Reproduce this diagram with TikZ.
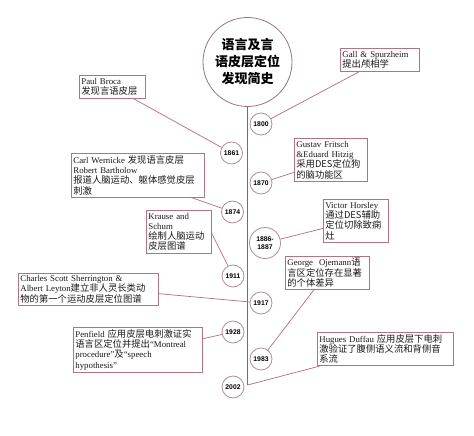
\documentclass[tikz,border=0pt]{standalone}
\usepackage{fontspec}
\setmainfont{Liberation Serif}
\newfontfamily\cjk{Noto Sans CJK SC}[Scale=1.06]
\newfontfamily\cjkt{Noto Sans CJK SC}
\newfontfamily\yearf{Liberation Sans}
\newcommand\zh[1]{{\cjk #1}}
\definecolor{linec}{RGB}{196,72,96}
\definecolor{boxc}{RGB}{176,116,132}
\definecolor{circc}{RGB}{168,146,148}
\definecolor{connc}{RGB}{176,110,126}
\definecolor{titlec}{RGB}{150,118,124}
\definecolor{textc}{RGB}{25,25,25}
\tikzset{
  evbox/.style 2 args={draw=boxc, line width=0.8pt, fill=white, inner sep=2pt,
    align=left, anchor=north west, text width=#1-4pt, minimum height=#2,
    font=\fontsize{8.8}{10.3}\selectfont, text=textc},
  yr/.style={circle, draw=circc, line width=0.8pt, fill=white, inner sep=0pt,
    minimum size=22pt, align=center, text=black,
    font=\yearf\bfseries\fontsize{6.8}{7.6}\selectfont},
  conn/.style={draw=connc, line width=0.7pt},
  vline/.style={draw=linec, line width=1.3pt},
}
\begin{document}
\begin{tikzpicture}[x=1pt,y=-1pt]
\useasboundingbox[fill=white] (0,0) rectangle (474,436);
% title
\node[circle, draw=titlec, line width=0.8pt, minimum size=89pt, inner sep=0pt,
  align=center, font=\cjkt\bfseries\fontsize{13}{17}\selectfont] (title) at (247.5,62)
  {语言及言\\语皮层定位\\发现简史};
\coordinate (lineend) at (247.5,385);
\draw[vline] (title.south) -- (title.south |- lineend);
% year circles
\node[yr] (y1800) at (261,124) {1800};
\node[yr] (y1861) at (231.5,153) {1861};
\node[yr] (y1870) at (261,183) {1870};
\node[yr] (y1874) at (232.5,212) {1874};
\node[yr, minimum size=31pt] (y1886) at (265,243) {1886-\\1887};
\node[yr] (y1911) at (233,276) {1911};
\node[yr] (y1917) at (261,303) {1917};
\node[yr] (y1928) at (233,332) {1928};
\node[yr] (y1983) at (261,359) {1983};
\node[yr] (y2002) at (233,387) {2002};
% event boxes
\node[evbox={66pt}{23pt}] (broca) at (79,75) {Paul Broca\\\zh{发现言语皮层}};
\node[evbox={79pt}{23pt}] (gall) at (340,48) {Gall \& Spurzheim\\\zh{提出颅相学}};
\node[evbox={133pt}{42pt}] (wern) at (71,153)
  {Carl Wernicke \zh{发现语言皮层}\\Robert Bartholow\\\zh{报道人脑运动、躯体感觉皮层}\\\zh{刺激}};
\node[evbox={65pt}{43pt}] (krause) at (146,210)
  {Krause and\\Schum\\\zh{绘制人脑运动}\\\zh{皮层图谱}};
\node[evbox={73pt}{43pt}] (fritsch) at (294,138)
  {Gustav Fritsch\\\&Eduard Hitzig\\\zh{采用DES定位狗}\\\zh{的脑功能区}};
\node[evbox={65pt}{43pt}] (horsley) at (323,199)
  {Victor Horsley\\\zh{通过DES辅助}\\\zh{定位切除致痫}\\\zh{灶}};
\node[evbox={84pt}{32pt}] (ojem) at (285,256)
  {George\ \ Ojemann\zh{语}\\\zh{言区定位存在显著}\\\zh{的个体差异}};
\node[evbox={140pt}{29pt}] (sherr) at (18,273)
  {Charles Scott Sherrington \&\\Albert Leyton\zh{建立非人灵长类动}\\\zh{物的第一个运动皮层定位图谱}};
\node[evbox={129pt}{42pt}] (penf) at (73,327)
  {Penfield \zh{应用皮层电刺激证实}\\\zh{语言区定位并提出}“Montreal\\procedure”\zh{及}“speech\\hypothesis”};
\node[evbox={136pt}{32pt}] (duff) at (317,332)
  {Hugues Duffau \zh{应用皮层下电刺}\\\zh{激验证了腹侧语义流和背侧音}\\\zh{系流}};
% connectors
\draw[conn] ([xshift=-12pt]broca.south east) -- (y1861);
\draw[conn] ([xshift=19pt]gall.south west) -- (y1800);
\draw[conn] ([xshift=-14pt]wern.south east) -- (y1874);
\draw[conn] ([yshift=-1.5pt]krause.east) -- (y1911);
\draw[conn] ([yshift=-12.5pt]fritsch.west) -- (y1870);
\draw[conn] ([yshift=-7.5pt]horsley.west) -- (y1886);
\draw[conn] ([xshift=29pt]ojem.south west) -- (y1983);
\draw[conn] ([yshift=-4.5pt]sherr.east) -- (y1917);
\draw[conn] ([yshift=11pt]penf.east) -- (y1928);
\draw[conn] ([xshift=3pt]duff.south west) -- (lineend);
\end{tikzpicture}
\end{document}
